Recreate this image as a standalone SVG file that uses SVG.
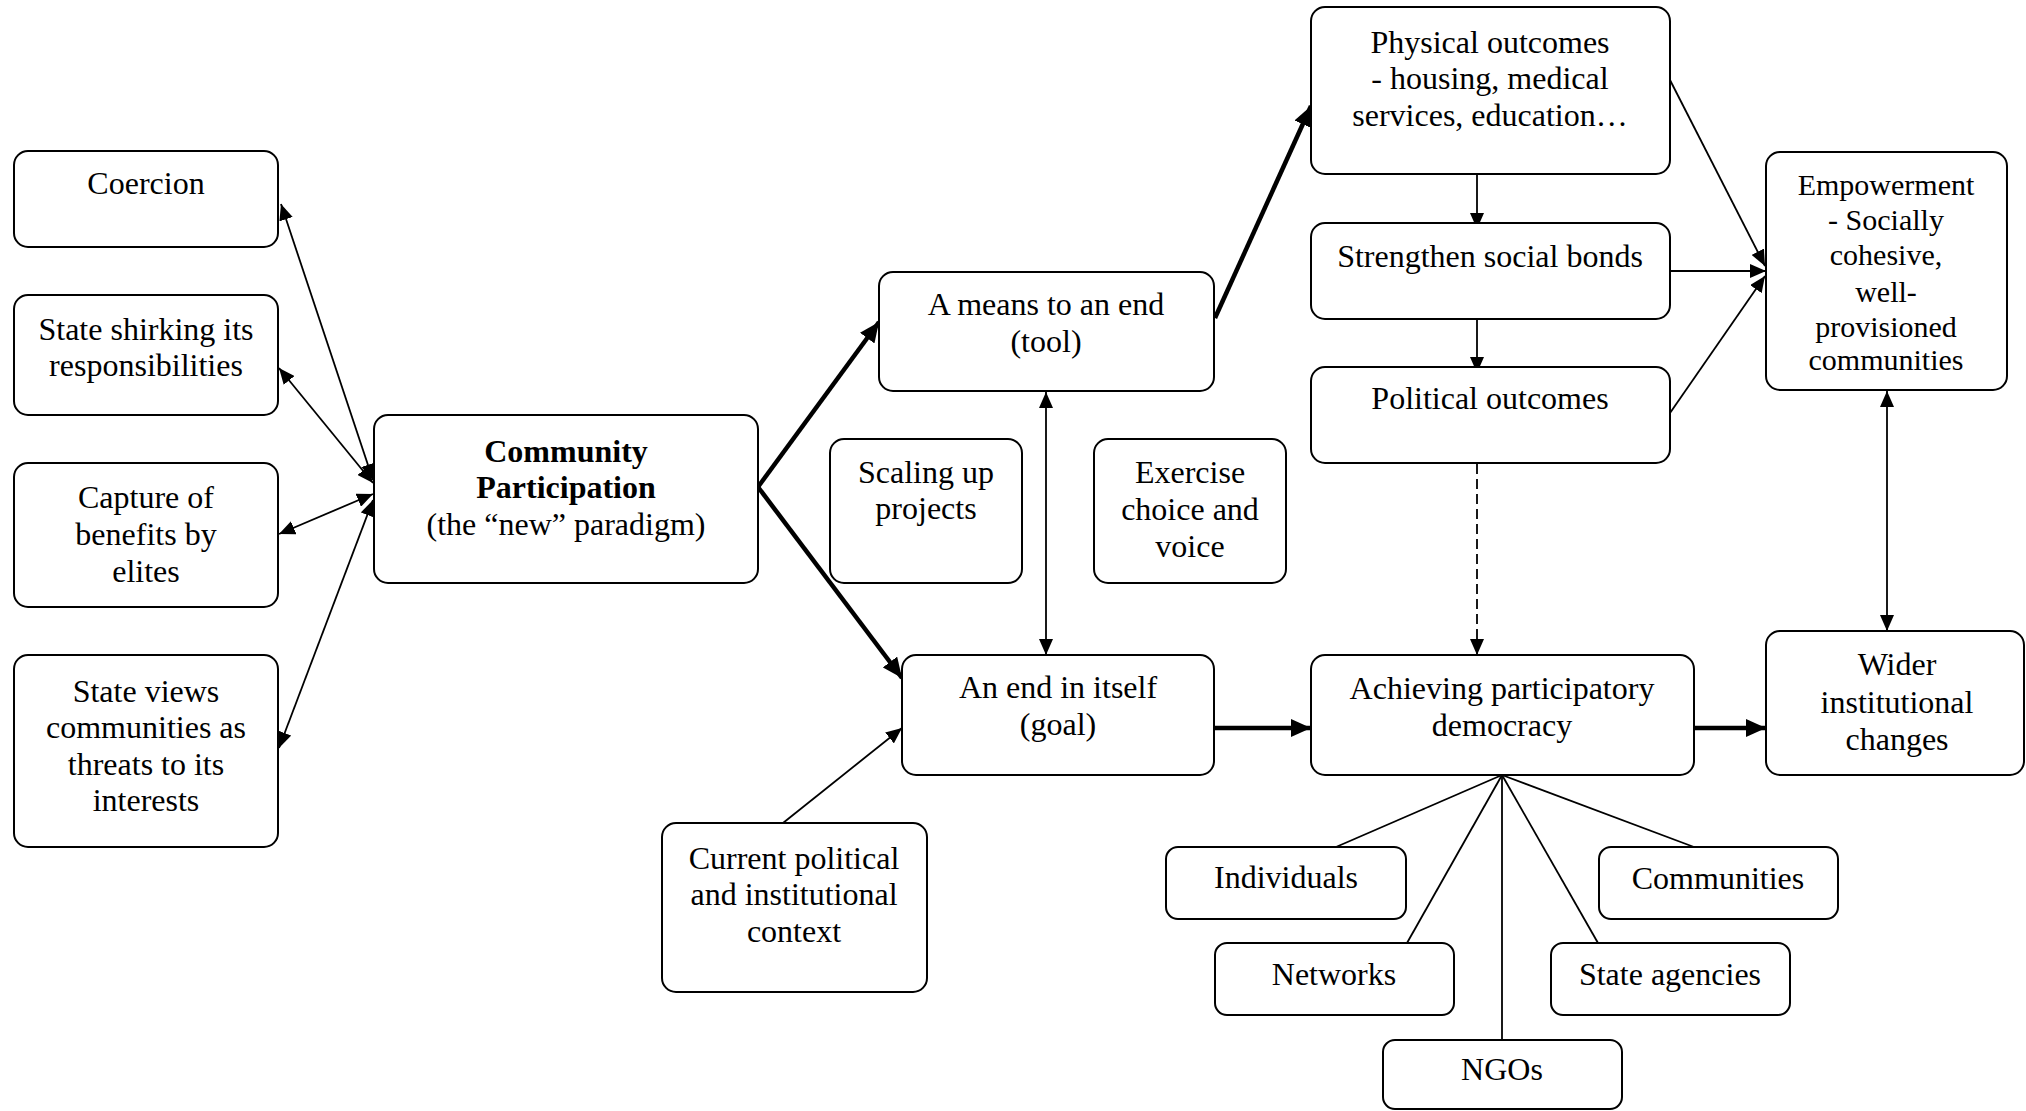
<svg xmlns="http://www.w3.org/2000/svg" width="2026" height="1111" viewBox="0 0 2026 1111">
<style>
.box{fill:#fff;stroke:#000;stroke-width:2}
text{font-family:"Liberation Serif","Times New Roman",serif;font-size:32px;fill:#000;text-anchor:middle}
.sm{font-size:30px}
.b{font-weight:bold}
.thin{stroke:#000;stroke-width:1.8;fill:none}
.thick{stroke:#000;stroke-width:4.5;fill:none}
.dash{stroke-dasharray:10 5}
</style>
<defs>
<marker id="ah" markerUnits="userSpaceOnUse" markerWidth="16" markerHeight="14" refX="16" refY="7" orient="auto-start-reverse" viewBox="0 0 16 14"><path d="M0,0 L16,7 L0,14 z" fill="#000"/></marker>
<marker id="aht" markerUnits="userSpaceOnUse" markerWidth="20" markerHeight="18" refX="20" refY="9" orient="auto-start-reverse" viewBox="0 0 20 18"><path d="M0,0 L20,9 L0,18 z" fill="#000"/></marker>
</defs>
<rect width="2026" height="1111" fill="#fff"/>
<g id="connectors">
<line class="thin" x1="373" y1="480" x2="281" y2="204" marker-start="url(#ah)" marker-end="url(#ah)"/>
<line class="thin" x1="373" y1="483" x2="279" y2="368" marker-start="url(#ah)" marker-end="url(#ah)"/>
<line class="thin" x1="373" y1="494" x2="279" y2="534" marker-start="url(#ah)" marker-end="url(#ah)"/>
<line class="thin" x1="373" y1="500" x2="279" y2="748" marker-start="url(#ah)" marker-end="url(#ah)"/>
<line class="thick" x1="758" y1="487" x2="879" y2="322" marker-end="url(#aht)"/>
<line class="thick" x1="758" y1="487" x2="902" y2="678" marker-end="url(#aht)"/>
<line class="thick" x1="1215" y1="318" x2="1311" y2="106" marker-end="url(#aht)"/>
<line class="thick" x1="1215" y1="728" x2="1311" y2="728" marker-end="url(#aht)"/>
<line class="thick" x1="1694" y1="728" x2="1766" y2="728" marker-end="url(#aht)"/>
<line class="thin" x1="1046" y1="392" x2="1046" y2="655" marker-start="url(#ah)" marker-end="url(#ah)"/>
<line class="thin" x1="783" y1="823" x2="902" y2="728" marker-end="url(#ah)"/>
<line class="thin" x1="1477" y1="160" x2="1477" y2="229" marker-end="url(#ah)"/>
<line class="thin" x1="1477" y1="305" x2="1477" y2="373" marker-end="url(#ah)"/>
<line class="thin" x1="1670" y1="80" x2="1765" y2="266" marker-end="url(#ah)"/>
<line class="thin" x1="1671" y1="271" x2="1766" y2="271" marker-end="url(#ah)"/>
<line class="thin" x1="1670" y1="413" x2="1765" y2="276" marker-end="url(#ah)"/>
<line class="thin" x1="1887" y1="391" x2="1887" y2="631" marker-start="url(#ah)" marker-end="url(#ah)"/>
<line class="thin dash" x1="1477" y1="464" x2="1477" y2="655" marker-end="url(#ah)"/>
<line class="thin" x1="1502" y1="775" x2="1336" y2="847"/>
<line class="thin" x1="1502" y1="775" x2="1407" y2="943"/>
<line class="thin" x1="1502" y1="775" x2="1502" y2="1040"/>
<line class="thin" x1="1502" y1="775" x2="1598" y2="943"/>
<line class="thin" x1="1502" y1="775" x2="1694" y2="847"/>
</g>
<g id="coercion"><rect class="box" x="14" y="151" width="264" height="96" rx="14"/><text x="146" y="194">Coercion</text></g>
<g id="shirking"><rect class="box" x="14" y="295" width="264" height="120" rx="14"/><text x="146" y="340">State shirking its</text><text x="146" y="376">responsibilities</text></g>
<g id="capture"><rect class="box" x="14" y="463" width="264" height="144" rx="14"/><text x="146" y="508">Capture of</text><text x="146" y="545">benefits by</text><text x="146" y="582">elites</text></g>
<g id="threats"><rect class="box" x="14" y="655" width="264" height="192" rx="14"/><text x="146" y="702">State views</text><text x="146" y="738">communities as</text><text x="146" y="775">threats to its</text><text x="146" y="811">interests</text></g>
<g id="community-participation"><rect class="box" x="374" y="415" width="384" height="168" rx="14"/><text class="b" x="566" y="462">Community</text><text class="b" x="566" y="498">Participation</text><text x="566" y="535">(the “new” paradigm)</text></g>
<g id="means"><rect class="box" x="879" y="272" width="335" height="119" rx="14"/><text x="1046" y="315">A means to an end</text><text x="1046" y="352">(tool)</text></g>
<g id="scaling"><rect class="box" x="830" y="439" width="192" height="144" rx="14"/><text x="926" y="483">Scaling up</text><text x="926" y="519">projects</text></g>
<g id="exercise"><rect class="box" x="1094" y="439" width="192" height="144" rx="14"/><text x="1190" y="483">Exercise</text><text x="1190" y="520">choice and</text><text x="1190" y="557">voice</text></g>
<g id="end"><rect class="box" x="902" y="655" width="312" height="120" rx="14"/><text x="1058" y="698">An end in itself</text><text x="1058" y="735">(goal)</text></g>
<g id="context"><rect class="box" x="662" y="823" width="265" height="169" rx="14"/><text x="794" y="869">Current political</text><text x="794" y="905">and institutional</text><text x="794" y="942">context</text></g>
<g id="physical"><rect class="box" x="1311" y="7" width="359" height="167" rx="14"/><text x="1490" y="53">Physical outcomes</text><text x="1490" y="89">- housing, medical</text><text x="1490" y="126">services, education…</text></g>
<g id="social-bonds"><rect class="box" x="1311" y="223" width="359" height="96" rx="14"/><text x="1490" y="267">Strengthen social bonds</text></g>
<g id="political"><rect class="box" x="1311" y="367" width="359" height="96" rx="14"/><text x="1490" y="409">Political outcomes</text></g>
<g id="empowerment"><rect class="box" x="1766" y="152" width="241" height="238" rx="14"/><text class="sm" x="1886" y="195">Empowerment</text><text class="sm" x="1886" y="230">- Socially</text><text class="sm" x="1886" y="265">cohesive,</text><text class="sm" x="1886" y="302">well-</text><text class="sm" x="1886" y="337">provisioned</text><text class="sm" x="1886" y="370">communities</text></g>
<g id="democracy"><rect class="box" x="1311" y="655" width="383" height="120" rx="14"/><text x="1502" y="699">Achieving participatory</text><text x="1502" y="736">democracy</text></g>
<g id="wider"><rect class="box" x="1766" y="631" width="258" height="144" rx="14"/><text x="1897" y="675">Wider</text><text x="1897" y="713">institutional</text><text x="1897" y="750">changes</text></g>
<g id="individuals"><rect class="box" x="1166" y="847" width="240" height="72" rx="12"/><text x="1286" y="888">Individuals</text></g>
<g id="communities"><rect class="box" x="1599" y="847" width="239" height="72" rx="12"/><text x="1718" y="889">Communities</text></g>
<g id="networks"><rect class="box" x="1215" y="943" width="239" height="72" rx="12"/><text x="1334" y="985">Networks</text></g>
<g id="state-agencies"><rect class="box" x="1551" y="943" width="239" height="72" rx="12"/><text x="1670" y="985">State agencies</text></g>
<g id="ngos"><rect class="box" x="1383" y="1040" width="239" height="69" rx="12"/><text x="1502" y="1080">NGOs</text></g>
</svg>
